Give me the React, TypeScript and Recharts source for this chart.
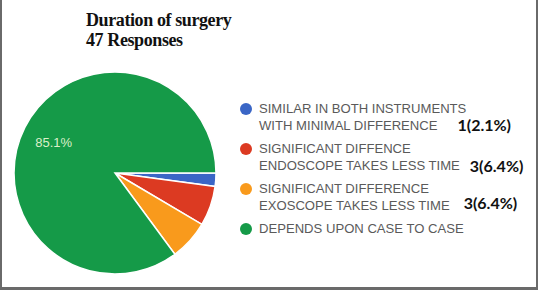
import React from 'react';
import { PieChart, Pie, Cell, Legend } from 'recharts';

/* ─── Data ────────────────────────────────────────────── */

const TITLE = 'Duration of surgery';
const RESPONSES = 47;

const categories: string[][] = [
	['SIMILAR IN BOTH INSTRUMENTS', 'WITH MINIMAL DIFFERENCE'],
	['SIGNIFICANT DIFFENCE', 'ENDOSCOPE TAKES LESS TIME'],
	['SIGNIFICANT DIFFERENCE', 'EXOSCOPE TAKES LESS TIME'],
	['DEPENDS UPON CASE TO CASE'],
];
const counts = [1, 3, 3, 40];
const percents = [2.1, 6.4, 6.4, 85.1];
const annotated = [true, true, true, false];

const colors = ['#3a66c6', '#dc3a22', '#f99a1c', '#159a48'];

/* ─── Style ───────────────────────────────────────────── */

const LEGEND_FONT = '"Liberation Sans", Arial, sans-serif';
const COUNT_FONT = 'Lato, "Open Sans", sans-serif';
// hand-placed annotation offsets beside the second legend line
const COUNT_OFFSETS = [
	{ dx: 20, dy: -1 },
	{ dx: 10, dy: 0 },
	{ dx: 14, dy: -3 },
	{ dx: 0, dy: 0 },
];

const pieData = categories.map((c, i) => ({
	name: c.join(' '),
	value: counts[i],
	pct: percents[i],
}));

function renderLabel(props: any) {
	const { cx, cy, midAngle, outerRadius, index } = props;
	if (pieData[index].pct < 10) return null;
	const r = outerRadius * 0.68;
	const rad = (Math.PI / 180) * midAngle;
	const x = cx + r * Math.cos(rad);
	const y = cy - r * Math.sin(rad);
	return (
		<text
			x={x}
			y={y}
			fill="#dcefc8"
			fontSize={13}
			fontFamily={LEGEND_FONT}
			textAnchor="middle"
			dominantBaseline="central"
		>
			{`${pieData[index].pct}%`}
		</text>
	);
}

function LegendContent() {
	return (
		<div style={{ fontFamily: LEGEND_FONT }}>
			{categories.map((lines, i) => (
				<div
					key={i}
					style={{ display: 'flex', alignItems: 'flex-start', marginBottom: 6 }}
				>
					<div
						style={{
							width: 12,
							height: 12,
							borderRadius: '50%',
							background: colors[i],
							marginTop: 3,
							marginRight: 7,
							flexShrink: 0,
						}}
					/>
					<div style={{ fontSize: 13.1, lineHeight: '17px', color: '#5a5a5a' }}>
						{lines.map((l, j) => (
							<div key={j} style={{ whiteSpace: 'nowrap', height: 17 }}>
								{l}
								{annotated[i] && j === lines.length - 1 && (
									<span
										style={{
											display: 'inline-block',
											verticalAlign: 'top',
											height: 17,
											lineHeight: '17px',
											position: 'relative',
											left: COUNT_OFFSETS[i].dx,
											top: COUNT_OFFSETS[i].dy,
											fontFamily: COUNT_FONT,
											fontWeight: 700,
											fontSize: 16,
											color: '#111',
										}}
									>
										{`${counts[i]}(${percents[i]}%)`}
									</span>
								)}
							</div>
						))}
					</div>
				</div>
			))}
		</div>
	);
}

export default function App() {
	return (
		<div
			style={{
				position: 'absolute',
				left: 0,
				top: 0,
				width: 538,
				height: 290,
				background: '#fff',
				boxSizing: 'border-box',
				borderLeft: '2px solid #6a6a6a',
				borderRight: '2px solid #6a6a6a',
				borderBottom: '3px solid #6a6a6a',
			}}
		>
			<div
				style={{
					position: 'absolute',
					left: 84,
					top: 10,
					fontFamily: '"Liberation Serif", "Times New Roman", serif',
					fontWeight: 700,
					fontSize: 18,
					lineHeight: '20px',
					color: '#111',
					letterSpacing: -0.4,
				}}
			>
				<div>{TITLE}</div>
				<div>{`${RESPONSES} Responses`}</div>
			</div>
			<PieChart width={534} height={287} margin={{ top: 0, right: 0, bottom: 0, left: 0 }}>
				<Pie
					data={pieData}
					dataKey="value"
					nameKey="name"
					cx={113}
					cy={173}
					outerRadius={101}
					startAngle={0}
					endAngle={-360}
					stroke="#fff"
					strokeWidth={1.5}
					label={renderLabel}
					labelLine={false}
					isAnimationActive={false}
				>
					{pieData.map((d, i) => (
						<Cell key={d.name} fill={colors[i]} />
					))}
				</Pie>
				<Legend
					layout="vertical"
					content={<LegendContent />}
					wrapperStyle={{ position: 'absolute', left: 238, top: 100, width: 300 }}
				/>
			</PieChart>
		</div>
	);
}
